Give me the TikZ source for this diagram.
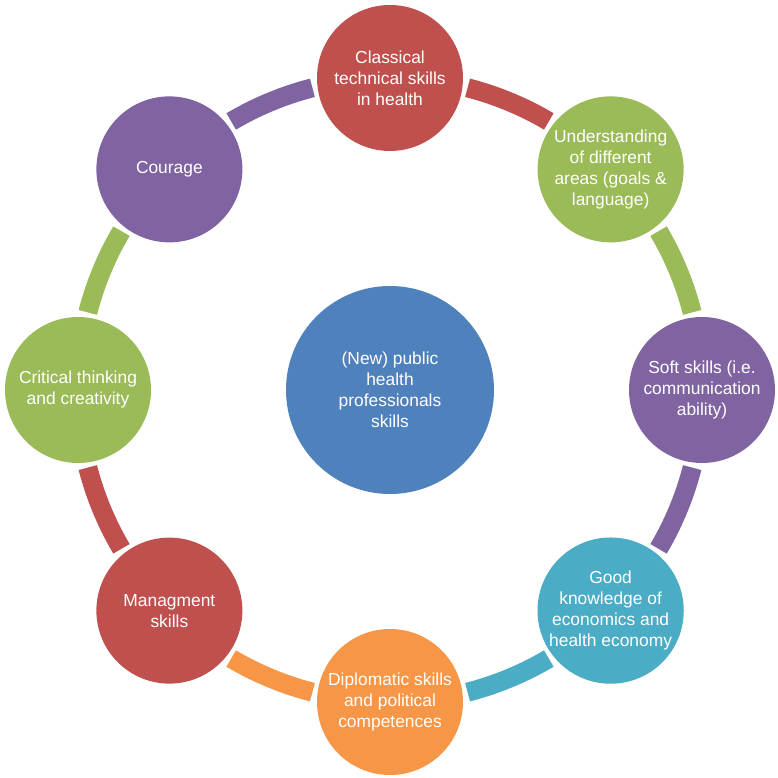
\documentclass[tikz,border=0pt]{standalone}
\usepackage{fontspec}
\setmainfont{Liberation Sans}
\definecolor{cred}{HTML}{C0504D}
\definecolor{cgreen}{HTML}{9BBB59}
\definecolor{cpurple}{HTML}{8064A2}
\definecolor{cteal}{HTML}{4BACC6}
\definecolor{corange}{HTML}{F79646}
\definecolor{cblue}{HTML}{4F81BD}
\begin{document}
\begin{tikzpicture}[x=1pt,y=1pt,
  skill/.style={circle,minimum size=146pt,inner sep=0pt,text=white,align=center,
    font=\fontsize{17.4}{21}\selectfont},
  hub/.style={skill,minimum size=208pt,fill=cblue},
  ringarc/.style={line width=19pt,line cap=butt}]
\useasboundingbox (0,0) rectangle (778,778);
\node[hub] (c) at (390,388) {(New) public\\health\\professionals\\skills};
\node[skill,fill=cred]    (n1) at ([shift={(90:312pt)}]c)   {Classical\\technical skills\\in health};
\node[skill,fill=cgreen]  (n2) at ([shift={(45:312pt)}]c)   {Understanding\\of different\\areas (goals \&\\language)};
\node[skill,fill=cpurple] (n3) at ([shift={(0:312pt)}]c)    {Soft skills (i.e.\\communication\\ability)};
\node[skill,fill=cteal]   (n4) at ([shift={(-45:312pt)}]c)  {Good\\knowledge of\\economics and\\health economy};
\node[skill,fill=corange] (n5) at ([shift={(-90:312pt)}]c)  {Diplomatic skills\\and political\\competences};
\node[skill,fill=cred]    (n6) at ([shift={(-135:312pt)}]c) {Managment\\skills};
\node[skill,fill=cgreen]  (n7) at ([shift={(180:312pt)}]c)  {Critical thinking\\and creativity};
\node[skill,fill=cpurple] (n8) at ([shift={(135:312pt)}]c)  {Courage};
\foreach \a/\col in {90/cred,45/cgreen,0/cpurple,-45/cteal,-90/corange,-135/cred,180/cgreen,135/cpurple}{
  \pgfmathsetmacro{\sa}{\a-14.4}
  \pgfmathsetmacro{\ea}{\a-30.6}
  \draw[ringarc,draw=\col] (c) ++(\sa:312pt) arc[start angle=\sa,end angle=\ea,radius=312pt];
}
\end{tikzpicture}
\end{document}
